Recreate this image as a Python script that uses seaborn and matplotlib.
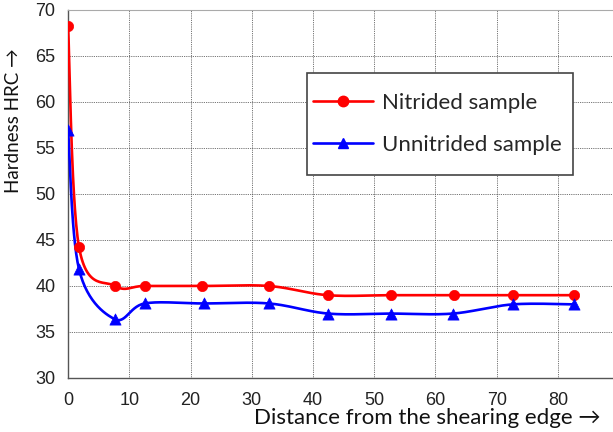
import numpy as np
import pandas as pd
import matplotlib.pyplot as plt
import seaborn as sns
from matplotlib.lines import Line2D
from matplotlib.patches import Rectangle

# distance from the shearing edge and hardness readings
nit_x = [0, 1.8, 7.7, 12.5, 21.8, 32.8, 42.4, 52.8, 63.1, 72.6, 82.6]
nit_y = [68.3, 44.2, 40.0, 40.0, 40.0, 40.0, 39.0, 39.0, 39.0, 39.0, 39.0]
unn_x = [0, 1.8, 7.6, 12.5, 22.2, 32.8, 42.5, 52.8, 62.8, 72.6, 82.6]
unn_y = [57.0, 41.8, 36.4, 38.1, 38.1, 38.1, 37.0, 37.0, 37.0, 38.0, 38.0]


# excel-like smoothed line (bezier through the points)
def smooth(xs, ys, n=30):
    p = np.column_stack([xs, ys]).astype(float)
    p = np.vstack([p[0], p, p[-1]])
    out = []
    t = np.linspace(0, 1, n)[:, None]
    for i in range(1, len(p) - 2):
        p0, p3 = p[i], p[i + 1]
        c1 = p0 + (p[i + 1] - p[i - 1]) / 6
        c2 = p3 - (p[i + 2] - p[i]) / 6
        seg = (1 - t) ** 3 * p0 + 3 * (1 - t) ** 2 * t * c1 + 3 * (1 - t) * t ** 2 * c2 + t ** 3 * p3
        out.append(seg)
    out = np.vstack(out)
    return out[:, 0], out[:, 1]


sns.set_style("white")
plt.rcParams['font.family'] = ['Liberation Sans', 'DejaVu Sans']

fig = plt.figure(figsize=(6.13, 4.32), dpi=100)
ax = fig.add_axes([0.111, 0.125, 0.889, 0.852])

for xs, ys, col, mk, ms in [(nit_x, nit_y, 'red', 'o', 55), (unn_x, unn_y, 'blue', '^', 65)]:
    sx, sy = smooth(xs, ys)
    ax.plot(sx, sy, color=col, lw=1.9, zorder=3)
    sns.scatterplot(x=xs, y=ys, color=col, marker=mk, s=ms, edgecolor=col, linewidth=0.5, ax=ax, zorder=4)

ax.set_xlim(0, 89)
ax.set_ylim(30, 70)
ax.set_xticks(range(0, 90, 10))
ax.set_yticks(range(30, 71, 5))
ax.grid(True, color='#444444', linestyle=(0, (1, 1.2)), linewidth=0.6)
ax.tick_params(labelsize=13, length=0, colors='#222222')
ax.tick_params(axis='y', pad=9)
ax.tick_params(axis='x', pad=10)
for s in ['left', 'bottom']:
    ax.spines[s].set_color('#555555')
    ax.spines[s].set_linewidth(1.0)
ax.spines['top'].set_color('#aaaaaa')
ax.spines['right'].set_visible(False)

ax.set_ylabel('Hardness HRC \u2192', fontsize=13.5, family=['Lato', 'DejaVu Sans'], color='#111111')
ax.yaxis.set_label_coords(-0.085, 0.7)
ax.set_xlabel('Distance from the shearing edge \u2192', fontsize=16, family=['Lato', 'DejaVu Sans'], color='#111111')
ax.xaxis.set_label_coords(0.66, -0.082)

# legend box (drawn separately to get the tall padding)
ax.add_patch(Rectangle((0.4385, 0.5516), 0.4881, 0.2772, transform=ax.transAxes,
                       facecolor='white', edgecolor='#444444', lw=1.2, zorder=5))
handles = [Line2D([], [], color='red', marker='o', lw=1.9, ms=7.5),
           Line2D([], [], color='blue', marker='^', lw=1.9, ms=7.5)]
leg = ax.legend(handles, ['Nitrided sample', 'Unnitrided sample'], loc='center',
                bbox_to_anchor=(0.678, 0.69), borderaxespad=0, frameon=False,
                prop={'family': ['Lato', 'DejaVu Sans'], 'size': 16},
                handlelength=2.7, borderpad=0, labelspacing=1.0, handletextpad=0.4)
leg.set_zorder(6)

fig.savefig('out.png', dpi=100)
